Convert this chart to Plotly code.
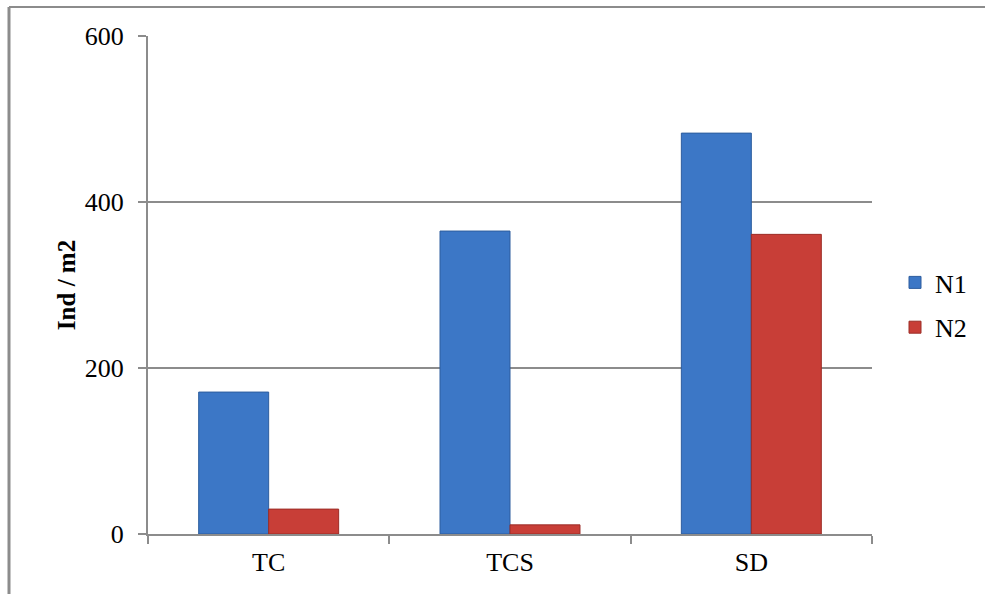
import plotly.graph_objects as go

categories = ["TC", "TCS", "SD"]
n1_values = [171, 365, 483]
n2_values = [30, 11, 361]
series_names = ["N1", "N2"]
y_ticks = [0, 200, 400, 600]

W, H = 985, 594
L, R, T, B = 148, 113, 36, 60
pw, ph = W - L - R, H - T - B

FAM = "Liberation Serif"
grid = "#8c8c8c"
tfont = dict(family=FAM, size=26, color="black")

fig = go.Figure()
fig.add_trace(go.Bar(x=categories, y=n1_values, name=series_names[0], legendgroup="a",
                     marker=dict(color="#3c77c6", line=dict(color="#2d5d9e", width=1))))
fig.add_trace(go.Bar(x=categories, y=n2_values, name=series_names[1], legendgroup="b",
                     marker=dict(color="#c83e37", line=dict(color="#9c2d27", width=1))))

bx = (9 - L) / pw
ty = (534 - 7) / ph
fig.update_layout(
    width=W, height=H,
    margin=dict(l=L, r=R, t=T, b=B, pad=0),
    paper_bgcolor="white", plot_bgcolor="white",
    font=tfont,
    barmode="group", bargap=0.42, bargroupgap=0,
    legend=dict(x=(895 - L) / pw, y=(534 - 305) / ph, xanchor="left", yanchor="middle",
                font=tfont, itemwidth=30,
                tracegroupgap=8, borderwidth=0, bgcolor="rgba(0,0,0,0)"),
    xaxis=dict(showline=True, linecolor=grid, linewidth=2, ticks="outside",
               tickson="boundaries", ticklen=8, tickwidth=2, tickcolor=grid,
               showgrid=False, tickfont=tfont, ticklabelstandoff=4),
    yaxis=dict(range=[0, 600], tickvals=y_ticks, showline=True, linecolor=grid, linewidth=2,
               ticks="outside", ticklen=8, tickwidth=2, tickcolor=grid,
               showgrid=True, gridcolor=grid, gridwidth=2, zeroline=False,
               tickfont=tfont, ticklabelstandoff=9,
               title=dict(text="<b>Ind / m2</b>", font=dict(family=FAM, size=25, color="black"),
                          standoff=2)),
    shapes=[
        dict(type="line", xref="paper", yref="paper", x0=bx, x1=(990 - L) / pw, y0=ty, y1=ty,
             line=dict(color=grid, width=2), layer="below"),
        dict(type="line", xref="paper", yref="paper", x0=bx, x1=bx, y0=ty, y1=(534 - 600) / ph,
             line=dict(color=grid, width=3), layer="below"),
    ],
)

fig.write_html("out.html", config={"displayModeBar": False},
               post_script="document.body.style.margin='0';")
